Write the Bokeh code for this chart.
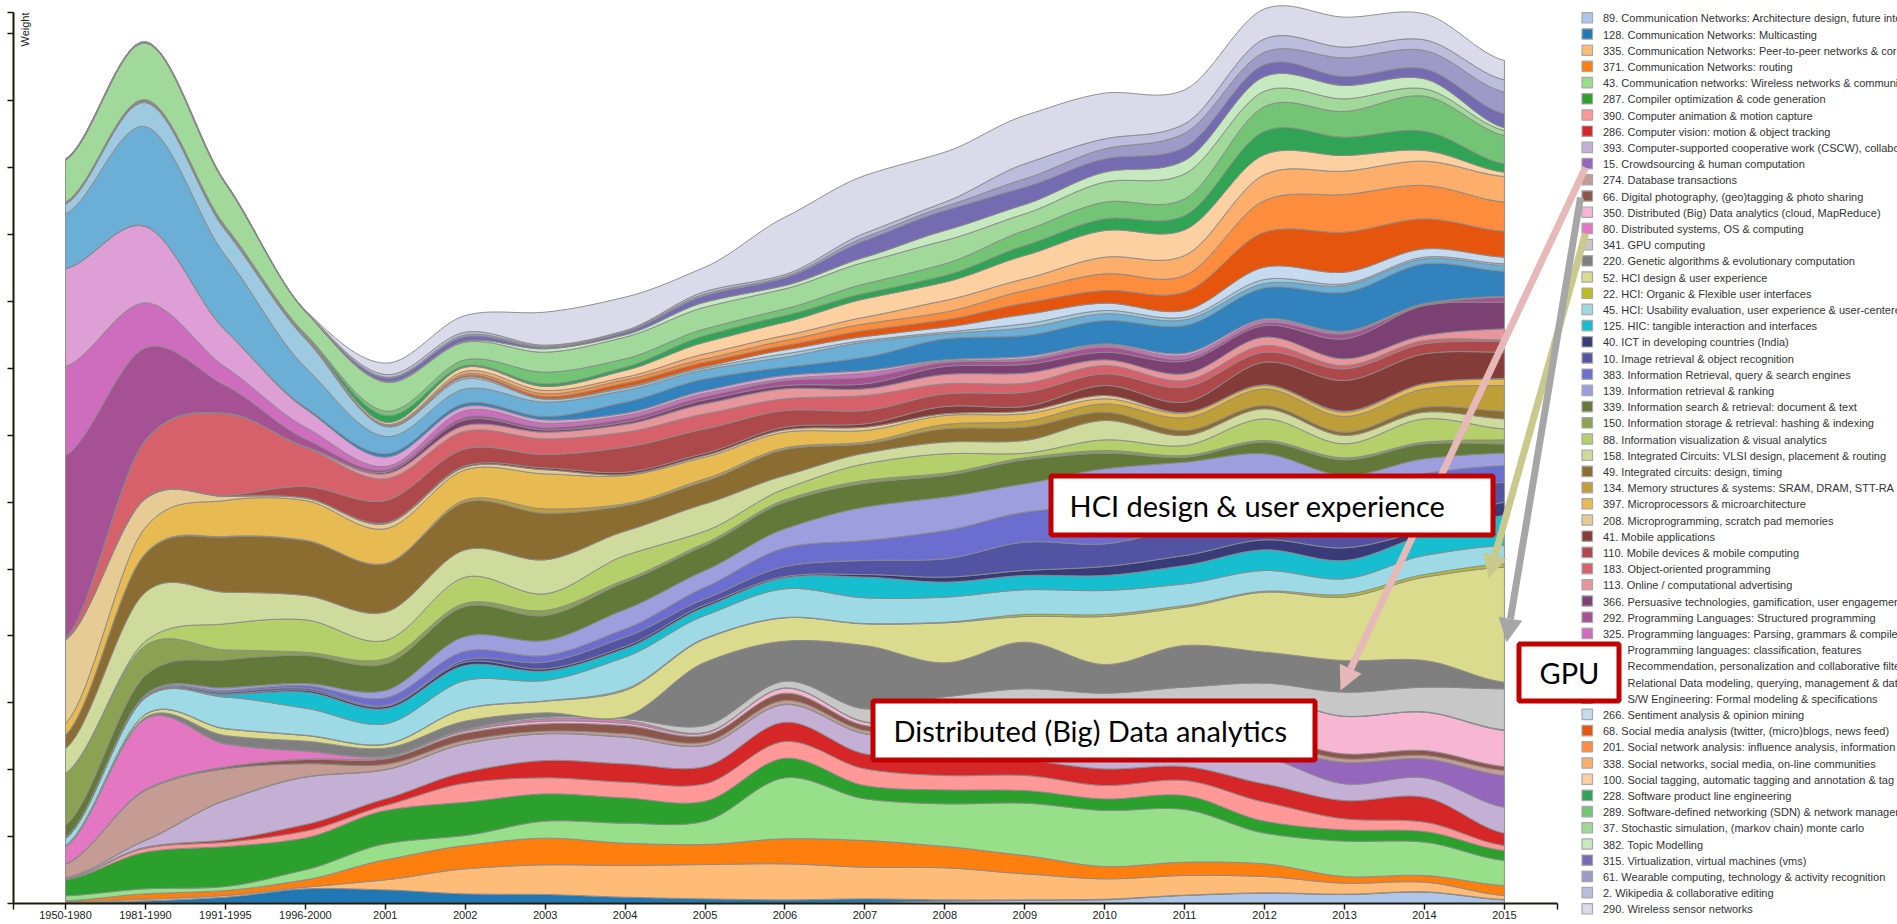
from bokeh.plotting import figure
from bokeh.embed import file_html
from bokeh.resources import INLINE
from bokeh.core.properties import value
from bokeh.models import FixedTicker, Arrow, NormalHead, BoxAnnotation, Label

periods = ["1950-1980", "1981-1990", "1991-1995", "1996-2000", "2001", "2002", "2003", "2004", "2005",
           "2006", "2007", "2008", "2009", "2010", "2011", "2012", "2013", "2014", "2015"]

H = "\u00a0" * 8
topics = [
    "89. Communication Networks: Architecture design, future inte",
    "128. Communication Networks: Multicasting",
    "335. Communication Networks: Peer-to-peer networks & cor",
    "371. Communication Networks: routing",
    "43. Communication networks: Wireless networks & communi",
    "287. Compiler optimization & code generation",
    "390. Computer animation & motion capture",
    "286. Computer vision: motion & object tracking",
    "393. Computer-supported cooperative work (CSCW), collabo",
    "15. Crowdsourcing & human computation",
    "274. Database transactions",
    "66. Digital photography, (geo)tagging & photo sharing",
    "350. Distributed (Big) Data analytics (cloud, MapReduce)",
    "80. Distributed systems, OS & computing",
    "341. GPU computing",
    "220. Genetic algorithms & evolutionary computation",
    "52. HCI design & user experience",
    "22. HCI: Organic & Flexible user interfaces",
    "45. HCI: Usability evaluation, user experience & user-centere",
    "125. HIC: tangible interaction and interfaces",
    "40. ICT in developing countries (India)",
    "10. Image retrieval & object recognition",
    "383. Information Retrieval, query & search engines",
    "139. Information retrieval & ranking",
    "339. Information search & retrieval: document & text",
    "150. Information storage & retrieval: hashing & indexing",
    "88. Information visualization & visual analytics",
    "158. Integrated Circuits: VLSI design, placement & routing",
    "49. Integrated circuits: design, timing",
    "134. Memory structures & systems: SRAM, DRAM, STT-RA",
    "397. Microprocessors & microarchitecture",
    "208. Microprogramming, scratch pad memories",
    "41. Mobile applications",
    "110. Mobile devices & mobile computing",
    "183. Object-oriented programming",
    "113. Online / computational advertising",
    "366. Persuasive technologies, gamification, user engagemen",
    "292. Programming Languages: Structured programming",
    "325. Programming languages: Parsing, grammars & compiler",
    H + "Programming languages: classification, features",
    H + "Recommendation, personalization and collaborative filte",
    H + "Relational Data modeling, querying, management & data",
    H + "S/W Engineering: Formal modeling & specifications",
    "266. Sentiment analysis & opinion mining",
    "68. Social media analysis (twitter, (micro)blogs, news feed)",
    "201. Social network analysis: influence analysis, information",
    "338. Social networks, social media, on-line communities",
    "100. Social tagging, automatic tagging and annotation & tag r",
    "228. Software product line engineering",
    "289. Software-defined networking (SDN) & network manager",
    "37. Stochastic simulation, (markov chain) monte carlo",
    "382. Topic Modelling",
    "315. Virtualization, virtual machines (vms)",
    "61. Wearable computing, technology & activity recognition",
    "2. Wikipedia & collaborative editing",
    "290. Wireless sensor networks",
]

colors = ["#aec7e8", "#1f77b4", "#ffbb78", "#ff7f0e", "#98df8a", "#2ca02c", "#ff9896", "#d62728", "#c5b0d5", "#9467bd",
          "#c49c94", "#8c564b", "#f7b6d2", "#e377c2", "#c7c7c7", "#7f7f7f", "#dbdb8d", "#bcbd22", "#9edae5", "#17becf",
          "#393b79", "#5254a3", "#6b6ecf", "#9c9ede", "#637939", "#8ca252", "#b5cf6b", "#cedb9c", "#8c6d31", "#bd9e39",
          "#e7ba52", "#e7cb94", "#843c39", "#ad494a", "#d6616b", "#e7969c", "#7b4173", "#a55194", "#ce6dbd", "#de9ed6",
          "#3182bd", "#6baed6", "#9ecae1", "#c6dbef", "#e6550d", "#fd8d3c", "#fdae6b", "#fdd0a2", "#31a354", "#74c476",
          "#a1d99b", "#c7e9c0", "#756bb1", "#9e9ac8", "#bcbddc", "#dadaeb"]

# cumulative stack height at the top of each topic, one list per period
w_1950_1980 = [1,3,5,8,23,71,72,74,76,77,117,118,119,169,170,172,173,174,194,195,196,197,198,199,234,389,390,464,504,505,539,789,790,791,792,793,794,1344,1611,1904,1905,2069,2097,2098,2099,2100,2101,2102,2103,2104,2229,2230,2231,2232,2233,2234]
w_1981_1990 = [1,8,13,29,44,154,166,169,189,190,339,341,342,554,555,559,567,568,617,618,620,622,624,627,684,774,787,934,1049,1051,1129,1214,1215,1216,1389,1390,1391,1667,1802,2031,2032,2331,2403,2404,2405,2406,2407,2408,2410,2412,2581,2582,2583,2584,2585,2586]
w_1991_1995 = [1,19,24,39,51,171,184,191,309,310,404,409,410,479,480,504,524,525,619,626,628,634,639,647,731,761,839,934,1099,1101,1209,1221,1222,1224,1469,1470,1471,1554,1609,1719,1720,1944,2019,2022,2024,2026,2028,2030,2031,2032,2159,2160,2161,2162,2163,2164]
w_1996_2000 = [1,44,49,71,101,197,217,237,379,380,419,432,433,457,458,487,504,505,586,634,640,646,654,660,744,754,851,924,1089,1090,1209,1216,1217,1251,1369,1370,1371,1394,1429,1484,1489,1609,1694,1696,1698,1700,1702,1704,1706,1709,1775,1776,1777,1778,1779,1780]
w_2001 = [1,41,71,131,179,279,294,314,401,402,417,434,437,441,442,466,477,478,539,584,591,594,617,639,719,734,789,874,1019,1020,1124,1139,1142,1209,1274,1289,1294,1301,1311,1339,1349,1401,1431,1432,1434,1436,1438,1444,1464,1477,1564,1566,1577,1579,1587,1621]
w_2002 = [1,29,104,174,204,304,361,394,479,480,489,511,517,521,523,547,584,585,669,714,724,731,757,801,891,901,979,1061,1204,1211,1301,1309,1313,1364,1417,1434,1451,1459,1479,1491,1501,1544,1574,1579,1584,1589,1597,1609,1614,1631,1684,1687,1701,1706,1714,1764]
w_2003 = [1,27,116,196,247,329,377,429,509,510,517,539,547,554,559,572,607,608,669,697,704,724,744,789,864,879,929,1031,1171,1184,1289,1301,1307,1347,1394,1414,1421,1429,1441,1451,1461,1504,1513,1514,1521,1529,1539,1551,1559,1594,1654,1664,1669,1672,1675,1774]
w_2004 = [1,19,114,181,241,317,364,419,499,500,509,534,541,549,554,561,639,643,739,764,771,799,824,882,964,971,1044,1117,1194,1199,1284,1287,1294,1369,1414,1437,1444,1454,1464,1471,1504,1539,1546,1549,1561,1571,1579,1599,1609,1634,1699,1706,1714,1717,1719,1819]
w_2005 = [1,14,117,177,247,307,359,411,474,475,484,504,511,513,534,724,794,796,864,889,896,914,949,999,1074,1081,1117,1199,1267,1274,1339,1344,1351,1424,1469,1499,1511,1521,1531,1539,1574,1601,1607,1611,1624,1634,1649,1684,1704,1724,1789,1804,1824,1829,1836,1909]
w_2006 = [1,11,119,194,377,436,486,544,597,598,609,631,646,647,667,787,857,858,944,977,981,1011,1067,1124,1204,1211,1244,1284,1362,1367,1414,1421,1429,1479,1514,1544,1554,1569,1574,1584,1609,1639,1649,1661,1674,1689,1704,1744,1764,1784,1844,1854,1877,1881,1887,2059]
w_2007 = [3,14,109,189,314,354,404,449,509,510,519,534,544,545,584,774,839,840,917,979,987,1029,1089,1189,1261,1269,1319,1351,1379,1384,1419,1429,1439,1479,1524,1544,1559,1579,1591,1599,1639,1684,1689,1701,1719,1739,1759,1814,1831,1859,1924,1939,1989,1999,2011,2184]
w_2008 = [7,11,107,171,299,341,384,434,499,500,514,529,539,541,620,722,842,844,919,964,979,1034,1119,1219,1284,1291,1349,1384,1424,1437,1464,1469,1491,1529,1559,1587,1611,1623,1627,1631,1694,1709,1714,1729,1751,1774,1809,1864,1884,1919,1989,2019,2079,2091,2104,2254]
w_2009 = [9,11,89,144,301,339,384,429,500,501,512,525,535,536,644,784,861,867,941,984,999,1084,1174,1259,1331,1337,1351,1389,1429,1447,1469,1477,1491,1534,1561,1591,1617,1629,1634,1641,1704,1727,1739,1767,1801,1839,1874,1944,1974,2019,2069,2097,2149,2174,2219,2364]
w_2010 = [11,13,74,111,279,314,354,404,470,476,490,500,512,513,631,717,861,867,939,984,1011,1079,1199,1304,1351,1359,1391,1449,1474,1499,1514,1524,1554,1589,1614,1631,1654,1669,1676,1679,1749,1769,1779,1801,1839,1889,1939,2019,2054,2104,2164,2194,2234,2264,2294,2431]
w_2011 = [24,25,84,124,282,324,369,411,470,480,490,505,515,516,649,774,889,894,959,1014,1044,1130,1240,1324,1339,1344,1374,1404,1419,1457,1471,1473,1504,1549,1569,1589,1627,1634,1644,1651,1734,1751,1759,1779,1834,1884,1944,2021,2064,2114,2189,2229,2269,2311,2339,2441]
w_2012 = [31,32,81,119,211,247,304,359,439,469,484,499,609,610,661,754,934,937,999,1061,1091,1179,1269,1349,1384,1389,1454,1484,1494,1544,1554,1556,1624,1654,1674,1699,1734,1742,1750,1754,1847,1860,1872,1909,2014,2109,2187,2247,2317,2391,2437,2481,2517,2554,2594,2684]
w_2013 = [27,28,61,81,187,221,254,309,359,424,434,449,561,562,634,729,919,927,974,1029,1067,1129,1229,1284,1331,1337,1379,1404,1414,1461,1474,1477,1569,1604,1614,1634,1694,1709,1714,1717,1834,1854,1859,1894,2014,2127,2197,2244,2299,2376,2414,2454,2481,2537,2569,2659]
w_2014 = [34,35,64,84,184,216,244,319,377,434,444,459,574,575,649,729,979,987,1044,1104,1120,1220,1290,1334,1379,1384,1454,1474,1489,1544,1559,1560,1649,1679,1689,1704,1794,1796,1798,1800,1919,1934,1939,1964,2054,2154,2227,2259,2317,2422,2444,2474,2504,2559,2591,2669]
w_2015 = [11,12,24,54,129,159,174,211,289,384,399,411,519,521,644,664,1009,1019,1074,1164,1204,1264,1314,1351,1379,1391,1424,1454,1477,1554,1574,1575,1654,1687,1691,1724,1804,1819,1821,1822,1897,1914,1919,1939,2017,2104,2181,2194,2219,2304,2319,2327,2369,2434,2471,2529]

columns = [w_1950_1980, w_1981_1990, w_1991_1995, w_1996_2000, w_2001, w_2002, w_2003, w_2004, w_2005, w_2006,
           w_2007, w_2008, w_2009, w_2010, w_2011, w_2012, w_2013, w_2014, w_2015]

for c in columns:
    assert len(c) == len(topics) == len(colors)

# page pixel <-> data helpers (the frame fills the whole 1897x924 page)
STEP = 79.94
def X(px): return (px - 65) / STEP
def Y(py): return (903 - py) * 3.0

p = figure(frame_width=1897, frame_height=924, min_border=0, x_range=(X(0), X(1897)), y_range=(Y(924), Y(0)),
           output_backend="svg", toolbar_location=None, tools="")
p.grid.visible = False
p.outline_line_color = None

TENSION = 0.42
SUB = 16
def smooth(vals):
    n = len(vals)
    xs, ys = [], []
    m = [TENSION * (vals[min(i + 1, n - 1)] - vals[max(i - 1, 0)]) for i in range(n)]
    for i in range(n - 1):
        for k in range(SUB):
            t = k / SUB
            h00 = 2*t**3 - 3*t**2 + 1
            h10 = t**3 - 2*t**2 + t
            h01 = -2*t**3 + 3*t**2
            h11 = t**3 - t**2
            xs.append(i + t)
            ys.append(h00*vals[i] + h10*m[i] + h01*vals[i+1] + h11*m[i+1])
    xs.append(n - 1.0)
    ys.append(float(vals[-1]))
    return xs, ys

below = [0.0] * len(columns)
for j, col in enumerate(colors):
    top = [c[j] for c in columns]
    xs, ys_top = smooth(top)
    _, ys_bot = smooth(below)
    p.patch(xs + xs[::-1], ys_top + ys_bot[::-1], fill_color=col, fill_alpha=1.0,
            line_color="#8a8a8a", line_width=1.0, line_alpha=0.95)
    below = top

# axes: the unlabelled ticks are the axes' minor ticks
AXC = "#1c1a0a"
ax_x = p.xaxis[0]
ends = [X(13), X(1557)]
ax_x.fixed_location = 0
ax_x.ticker = FixedTicker(ticks=list(range(len(periods))), minor_ticks=ends)
ax_x.major_label_overrides = {i: s for i, s in enumerate(periods)}
ax_x.bounds = (ends[0], ends[1])
ax_x.axis_line_color = AXC
ax_x.axis_line_width = 2
ax_x.major_tick_line_color = AXC
ax_x.major_tick_line_width = 1.5
ax_x.major_tick_out = 6
ax_x.major_tick_in = 0
ax_x.minor_tick_line_color = AXC
ax_x.minor_tick_line_width = 1.5
ax_x.minor_tick_out = 6
ax_x.minor_tick_in = 0
ax_x.major_label_standoff = 1
ax_x.major_label_text_font = "Liberation Sans"
ax_x.major_label_text_font_size = "11px"
ax_x.major_label_text_color = "#222222"

ax_y = p.yaxis[0]
ax_y.fixed_location = X(13)
ax_y.ticker = FixedTicker(ticks=[], minor_ticks=[200.7 * k for k in range(14)] + [Y(12)])
ax_y.bounds = (0, Y(12))
ax_y.axis_line_color = AXC
ax_y.axis_line_width = 2
ax_y.major_tick_line_color = None
ax_y.minor_tick_line_color = AXC
ax_y.minor_tick_line_width = 1.5
ax_y.minor_tick_out = 6
ax_y.minor_tick_in = 0
ax_y.major_label_standoff = 0

p.add_layout(Label(x=X(24), y=Y(12), text="Weight", angle=1.5708, text_align="right", text_baseline="middle",
                   text_font="Liberation Sans", text_font_size="11px", text_color="#222222"))

# legend column
ROW0, PITCH = 17.3, 16.2
row_y = [ROW0 + PITCH * i for i in range(len(topics))]
p.quad(left=[X(1581.5)] * len(topics), right=[X(1592)] * len(topics),
       top=[Y(r - 5.2) for r in row_y], bottom=[Y(r + 5.2) for r in row_y],
       fill_color=colors, line_color="#a8a8a8", line_width=1.2)
p.text(x=[X(1602.5)] * len(topics), y=[Y(r + 0.5) for r in row_y], text=topics,
       text_font=value("Liberation Sans"), text_font_size=value("11px"), text_color="#333333",
       text_baseline="middle", text_align="left")

# call-outs
def arrow(x0, y0, x1, y1, col):
    p.add_layout(Arrow(x_start=X(x0), y_start=Y(y0), x_end=X(x1), y_end=Y(y1), line_color=col, line_width=7,
                       end=NormalHead(size=24, fill_color=col, line_color=None)))

arrow(1585, 167, 1340, 690, "#e6b9b8")
arrow(1585, 233, 1488, 578, "#c8c98b")
arrow(1580, 197, 1506, 642, "#a6a6a6")

def callout(l, t, r, b, txt, tx):
    p.add_layout(BoxAnnotation(left=X(l + 2.5), right=X(r - 2.5), top=Y(t + 2.5), bottom=Y(b - 2.5),
                               fill_color="white", fill_alpha=1.0, line_color="#c00000", line_width=5,
                               line_alpha=1.0))
    p.add_layout(Label(x=X(tx), y=Y((t + b) / 2), text=txt, text_font="Lato", text_font_size="29px",
                       text_color="black", text_align="left", text_baseline="middle"))

callout(1048, 473, 1495, 537, "HCI design & user experience", 1069)
callout(870, 698, 1317, 762, "Distributed (Big) Data analytics", 893)
callout(1516, 641, 1621, 703, "GPU", 1539)

open("out.html", "w").write(file_html(p, INLINE))
